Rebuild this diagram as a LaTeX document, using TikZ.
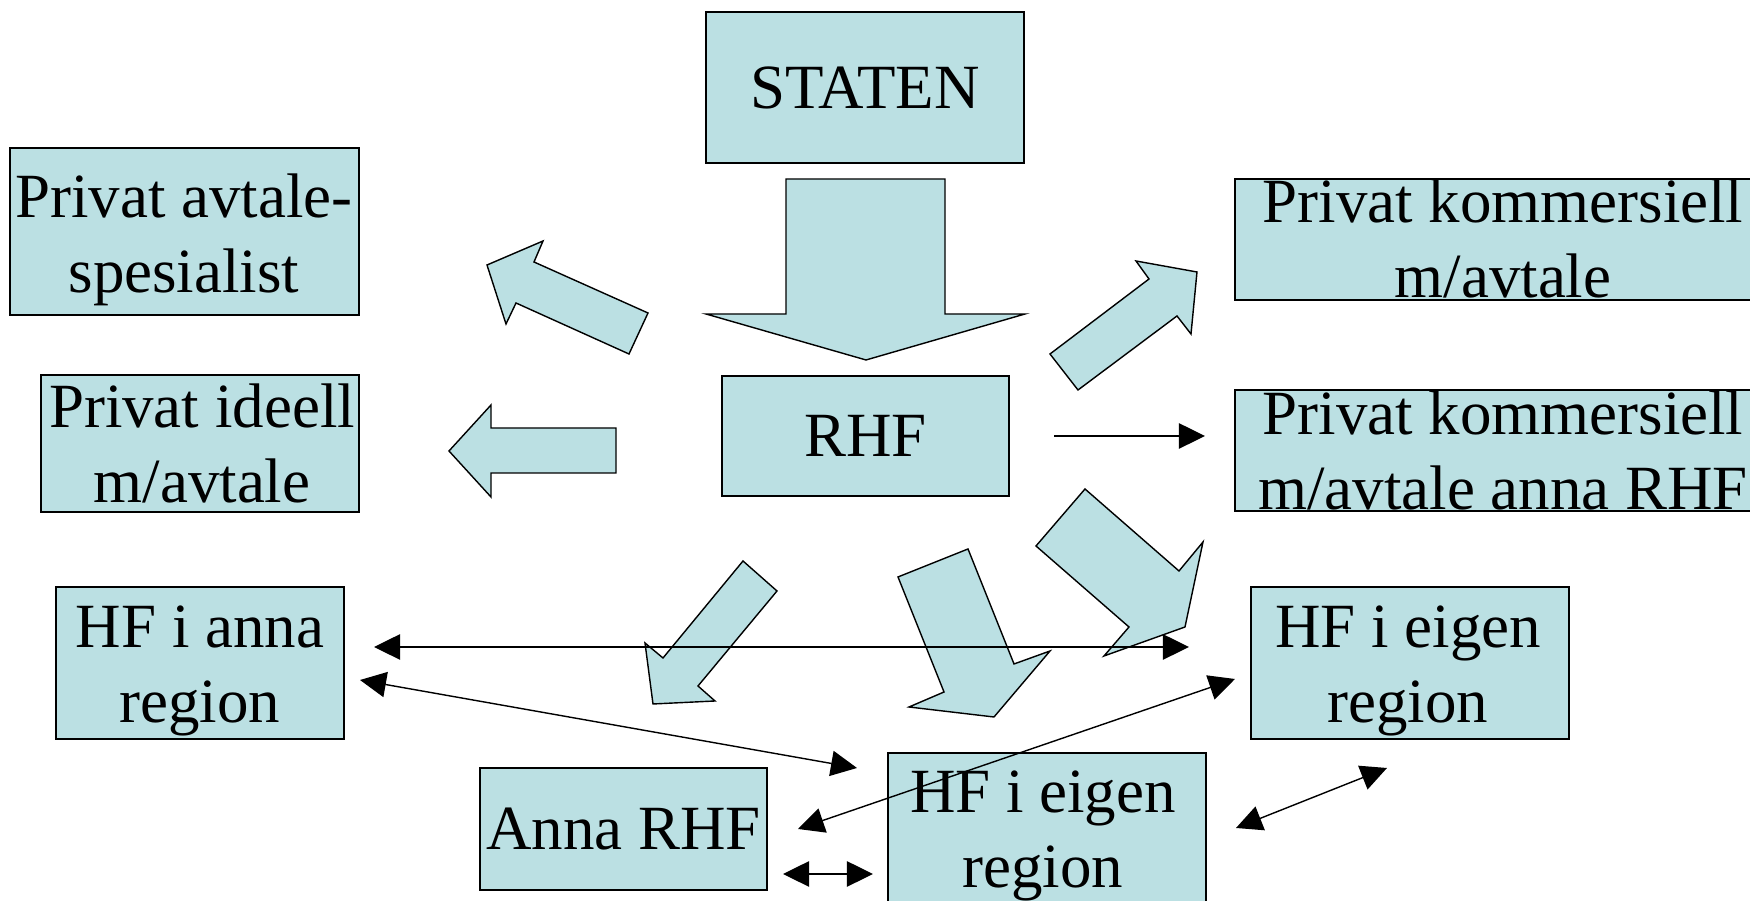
\documentclass[tikz,border=0pt]{standalone}
\usepackage{fontspec}
\setmainfont{Liberation Serif}
\usetikzlibrary{arrows.meta}
\definecolor{entityfill}{HTML}{BBE0E3}
\tikzstyle{entity}=[draw, fill=entityfill, line width=0.4pt, inner sep=0pt]
\tikzstyle{entity text}=[font=\fontsize{17.9}{21.6}\selectfont, align=center, inner sep=0pt]
\tikzstyle{block arrow}=[draw, fill=entityfill, line width=0.4pt, line join=miter]
\tikzstyle{relation}=[line width=0.4pt, -{Triangle[length=7.4pt, width=7.2pt]}]
\tikzstyle{mutual relation}=[line width=0.4pt, {Triangle[length=7.4pt, width=7.2pt]}-{Triangle[length=7.4pt, width=7.2pt]}]

\begin{document}
\begin{tikzpicture}[x=0.01cm, y=-0.01cm]
    \path[use as bounding box, fill=white] (0, 0) rectangle (1750, 901);

    % boxes
    \node[entity, minimum width=3.18cm, minimum height=1.51cm] (staten) at (865, 87.5) {};
    \node[entity text] at (staten) {STATEN};
    \node[entity, minimum width=3.49cm, minimum height=1.67cm] (spesialist) at (184.5, 231.5) {};
    \node[entity text, anchor=base] at (184, 293) {Privat avtale-\\spesialist};
    \node[entity, minimum width=3.18cm, minimum height=1.37cm] (ideell) at (200, 443.5) {};
    \node[entity text, anchor=base] at (202, 503) {Privat ideell\\m/avtale};
    \node[entity, minimum width=2.87cm, minimum height=1.20cm] (rhf) at (865.5, 436) {};
    \node[entity text] at (rhf) {RHF};
    \node[entity, minimum width=5.36cm, minimum height=1.21cm] (kommavtale) at (1503, 239.5) {};
    \begin{scope}
      \clip (kommavtale.south west) rectangle (kommavtale.north east);
      \node[entity text, anchor=base] at (1503, 298) {Privat kommersiell\\m/avtale};
    \end{scope}
    \node[entity, minimum width=5.36cm, minimum height=1.21cm] (kommanna) at (1503, 450.5) {};
    \begin{scope}
      \clip (kommanna.south west) rectangle (kommanna.north east);
      \node[entity text, anchor=base] at (1503, 510) {Privat kommersiell\\m/avtale anna RHF};
    \end{scope}
    \node[entity, minimum width=2.88cm, minimum height=1.52cm] (hfanna) at (200, 663) {};
    \node[entity text, anchor=base] at (200, 723) {HF i anna\\region};
    \node[entity, minimum width=3.18cm, minimum height=1.52cm] (hfeigen) at (1410, 663) {};
    \node[entity text, anchor=base] at (1408, 723) {HF i eigen\\region};
    \node[entity, minimum width=2.87cm, minimum height=1.22cm] (annarhf) at (623.5, 829) {};
    \node[entity text] at (annarhf) {Anna RHF};
    \node[entity, minimum width=3.18cm, minimum height=1.97cm] (hfeigen low) at (1047, 851.5) {};
    \node[entity text, anchor=base] at (1043, 888) {HF i eigen\\region};

    % block arrows
    \draw[block arrow] (786, 179) -- (945, 179) -- (945, 314) -- (1025, 314)
      -- (866, 360) -- (706, 314) -- (786, 314) -- cycle;
    \draw[block arrow] (487, 265) -- (543, 241) -- (534, 262) -- (648, 313)
      -- (629, 354) -- (516, 303) -- (506, 324) -- cycle;
    \draw[block arrow] (449, 451) -- (491, 405) -- (491, 428) -- (616, 428)
      -- (616, 473) -- (491, 473) -- (491, 497) -- cycle;
    \draw[block arrow] (1078, 390) -- (1050, 354) -- (1149, 279) -- (1136, 261)
      -- (1197, 272) -- (1191, 334) -- (1177, 316) -- cycle;
    \draw[block arrow] (743, 561) -- (777, 591) -- (698, 686) -- (715, 701)
      -- (653, 704) -- (645, 643) -- (663, 658) -- cycle;
    \draw[block arrow] (898, 577) -- (968, 549) -- (1014, 664) -- (1050, 651)
      -- (994, 717) -- (909, 707) -- (944, 692) -- cycle;
    \draw[block arrow] (1036, 546) -- (1085, 489) -- (1179, 571) -- (1203, 542)
      -- (1185, 627) -- (1104, 656) -- (1129, 627) -- cycle;

    % thin connectors
    \coordinate (rhf out) at (1054, 436);
    \coordinate (kommanna in) at (1205, 436);
    \coordinate (hfanna east) at (374, 647);
    \coordinate (hfeigen west) at (1189, 647);
    \coordinate (hfanna low) at (360, 680);
    \coordinate (hfeigen low in) at (857, 768);
    \coordinate (annarhf east) at (798, 829);
    \coordinate (hfeigen in) at (1235, 679);
    \coordinate (annarhf low) at (783, 874);
    \coordinate (hfeigen low west) at (873, 874);
    \coordinate (hfeigen low east) at (1236, 828);
    \coordinate (hfeigen south) at (1387, 768);

    \draw[relation] (rhf out) -- (kommanna in);
    \draw[mutual relation] (hfanna east) -- (hfeigen west);
    \draw[mutual relation] (hfanna low) -- (hfeigen low in);
    \draw[mutual relation] (annarhf east) -- (hfeigen in);
    \draw[mutual relation] (annarhf low) -- (hfeigen low west);
    \draw[mutual relation] (hfeigen low east) -- (hfeigen south);
\end{tikzpicture}
\end{document}
